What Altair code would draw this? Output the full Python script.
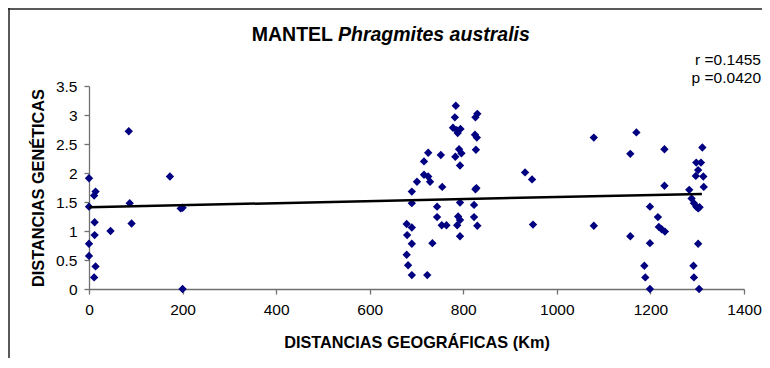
import altair as alt
import pandas as pd

# ---- data ----
geo_km = [
    0, 0, 0, 0, 11, 14, 12, 12, 14, 11, 46, 85, 87, 91, 173, 196, 200, 200,
    679, 680, 679, 682, 690, 690, 690, 690, 690, 701, 716, 716, 725, 725, 729, 723, 734,
    744, 744, 752, 755, 754, 764, 778, 782, 784, 786, 788, 794, 783, 791, 796, 793,
    793, 789, 793, 787, 793, 826, 830, 825, 829, 827, 828, 826, 823, 823, 830,
    932, 947, 949, 1079, 1079, 1170, 1157, 1157, 1230, 1230, 1199, 1216, 1218, 1224, 1231,
    1199, 1187, 1189, 1199,
    1311, 1298, 1308, 1302, 1297, 1313, 1314, 1283, 1288, 1293, 1298, 1302, 1305,
    1302, 1292, 1293, 1304,
]
gen_dist = [
    1.91, 1.42, 0.78, 0.57, 1.61, 1.68, 1.15, 0.93, 0.39, 0.20, 1.00, 2.72, 1.48, 1.13, 1.94, 1.39, 1.40, 0.00,
    1.12, 0.93, 0.59, 0.41, 1.06, 1.68, 1.48, 0.78, 0.24, 1.85, 2.20, 1.97, 1.94, 2.35, 1.85, 0.24, 0.79,
    1.42, 1.24, 2.31, 1.76, 1.10, 1.10, 2.78, 2.96, 3.16, 2.74, 2.69, 2.76, 2.28, 2.41, 2.34, 2.13,
    1.49, 1.25, 1.19, 1.10, 0.91, 2.96, 3.02, 2.66, 2.61, 2.40, 1.74, 1.72, 1.45, 1.24, 1.09,
    2.01, 1.89, 1.11, 2.61, 1.09, 2.70, 2.33, 0.91, 2.41, 1.78, 1.42, 1.24, 1.07, 1.03, 0.99,
    0.79, 0.40, 0.20, 0.00,
    2.44, 2.18, 2.18, 2.05, 1.95, 1.94, 1.76, 1.71, 1.56, 1.48, 1.42, 1.39, 1.41,
    0.78, 0.40, 0.20, 0.00,
]
fit_x = [0, 1310]
fit_y = [1.41, 1.64]

x_ticks = [0, 200, 400, 600, 800, 1000, 1200, 1400]
y_ticks = [0, 0.5, 1, 1.5, 2, 2.5, 3, 3.5]

title_main = "MANTEL"
title_species = "Phragmites australis"
stats = ["r =0.1455", "p =0.0420"]
x_title = "DISTANCIAS GEOGRÁFICAS (Km)"
y_title = "DISTANCIAS GENÉTICAS"

FONT = "Liberation Sans, Arial, sans-serif"
W, H = 655, 203

pts = pd.DataFrame({"km": geo_km, "gd": gen_dist})
fit = pd.DataFrame({"km": fit_x, "gd": fit_y})

xscale = alt.Scale(domain=[0, 1400], nice=False, zero=False)
yscale = alt.Scale(domain=[0, 3.5], nice=False, zero=False)

x_axis = alt.Axis(values=x_ticks, format="d", title=x_title, titleX=W / 2, titleY=58,
                  titleBaseline="alphabetic", titleAnchor="middle")
y_axis = alt.Axis(values=y_ticks, format="~g", title=y_title, titleX=-46, titleY=H / 2,
                  titleBaseline="alphabetic", titleAnchor="middle", titleAngle=-90)

points = alt.Chart(pts).mark_point(
    shape="diamond", filled=True, size=70, color="#000080", opacity=1
).encode(
    x=alt.X("km:Q", scale=xscale, axis=x_axis),
    y=alt.Y("gd:Q", scale=yscale, axis=y_axis),
)

line = alt.Chart(fit).mark_line(color="black", strokeWidth=2.5).encode(
    x=alt.X("km:Q", scale=xscale, axis=x_axis),
    y=alt.Y("gd:Q", scale=yscale, axis=y_axis),
)

t_main = alt.Chart(pd.DataFrame({"t": [title_main]})).mark_text(
    font=FONT, fontSize=19.5, fontWeight="bold", align="right", baseline="alphabetic", color="black"
).encode(text="t:N", x=alt.value(244), y=alt.value(-45))

t_species = alt.Chart(pd.DataFrame({"t": [title_species]})).mark_text(
    font=FONT, fontSize=19.5, fontWeight="bold", fontStyle="italic", align="left",
    baseline="alphabetic", color="black"
).encode(text="t:N", x=alt.value(249), y=alt.value(-45))

t_r = alt.Chart(pd.DataFrame({"t": [stats[0]]})).mark_text(
    font=FONT, fontSize=15.5, align="right", baseline="alphabetic", color="black"
).encode(text="t:N", x=alt.value(672), y=alt.value(-21))

t_p = alt.Chart(pd.DataFrame({"t": [stats[1]]})).mark_text(
    font=FONT, fontSize=15.5, align="right", baseline="alphabetic", color="black"
).encode(text="t:N", x=alt.value(672), y=alt.value(-3))

frame_left = alt.Chart(pd.DataFrame({"a": [0]})).mark_rule(color="#222222", strokeWidth=1.5).encode(
    x=alt.value(-80), y=alt.value(-78), y2=alt.value(H + 80))
frame_top = alt.Chart(pd.DataFrame({"a": [0]})).mark_rule(color="#222222", strokeWidth=1.5).encode(
    x=alt.value(-81), x2=alt.value(W + 30), y=alt.value(-77))

chart = alt.layer(points, line, t_main, t_species, t_r, t_p, frame_left, frame_top).properties(
    width=W, height=H,
    padding={"left": 81, "top": 78, "right": 18, "bottom": 69},
    autosize=alt.AutoSizeParams(type="none"),
).configure_view(stroke=None).configure_axis(
    grid=False,
    domainColor="#707070", domainWidth=1.3,
    tickColor="#707070", tickSize=5, tickWidth=1.3,
    labelFont=FONT, labelFontSize=15.5, labelColor="black",
    labelFlush=False, labelOverlap=False,
    titleFont=FONT, titleFontSize=16.3, titleFontWeight="bold", titleColor="black",
).configure_axisX(labelPadding=8).configure_axisY(labelPadding=7)

chart.save("out.html", embed_options={"renderer": "svg", "actions": False})
